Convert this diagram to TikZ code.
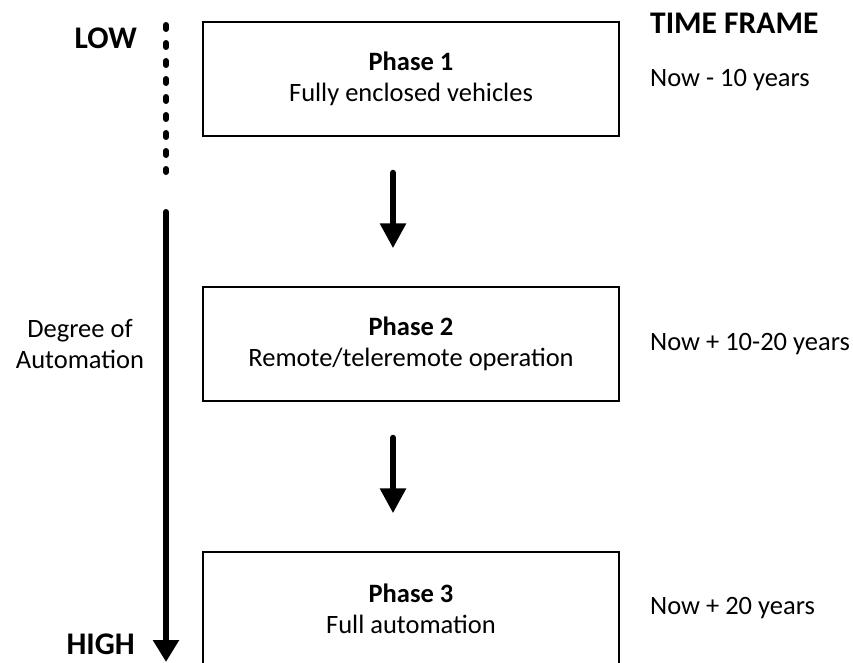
\documentclass[tikz,border=0pt]{standalone}
\usepackage{fontspec}
\setmainfont{Carlito}
\usetikzlibrary{arrows.meta}

\tikzset{
	phase/.style={draw, line width=1.5pt, minimum width=416pt, minimum height=114pt,
		align=center, inner sep=0pt, font=\fontsize{26.5}{31.5}\selectfont},
	timetext/.style={anchor=west, inner sep=0pt, font=\fontsize{26.5}{31.5}\selectfont},
	degree/.style={anchor=east, inner sep=0pt, font=\fontsize{31.5}{36}\selectfont\bfseries},
	arr/.style={line width=6pt, line cap=round, -{Triangle[width=25pt,length=25pt]}},
}

\begin{document}
\begin{tikzpicture}[x=1pt,y=-1pt]
		\clip ( 0, 0 ) rectangle ( 853, 663 );

		% фазы
		\node [phase] (ph1) at ( 411,  79 ) {\textbf{Phase 1}\\Fully enclosed vehicles};
		\node [phase] (ph2) at ( 411, 344 ) {\textbf{Phase 2}\\Remote/teleremote operation};
		\node [phase] (ph3) at ( 411, 609 ) {\textbf{Phase 3}\\Full automation};

		% переходы
		\draw [arr, shorten <=36pt, shorten >=38pt] ([xshift=-18pt]ph1.south) -- ([xshift=-18pt]ph2.north);
		\draw [arr, shorten <=36pt, shorten >=38pt] ([xshift=-18pt]ph2.south) -- ([xshift=-18pt]ph3.north);

		% шкала автоматизации
		\coordinate (axtop) at ( 166,  25 );
		\coordinate (axgap) at ( 166, 172 );
		\coordinate (axstart) at ( 166, 212 );
		\coordinate (axend) at ( 166, 662 );
		\draw [line width=6pt, line cap=round, dash pattern=on 4pt off 14pt] (axtop) -- (axgap);
		\draw [arr, -{Triangle[width=25pt,length=22pt]}] (axstart) -- (axend);

		\node [degree] (low) at ( 137,  38 ) {LOW};
		\node [degree] (high) at ( 135, 644 ) {HIGH};
		\node [align=center, inner sep=0pt, font=\fontsize{26.5}{30.5}\selectfont] (deg) at ( 80, 344 ) {Degree of\\Automation};

		% сроки
		\node [timetext, font=\fontsize{31.5}{36}\selectfont\bfseries] (tf) at ( 650,  23 ) {TIME FRAME};
		\node [timetext] (t1) at ( 650,  80 ) {Now - 10 years};
		\node [timetext] (t2) at ( 650, 344 ) {Now + 10-20 years};
		\node [timetext] (t3) at ( 650, 608 ) {Now + 20 years};
	\end{tikzpicture}
\end{document}
